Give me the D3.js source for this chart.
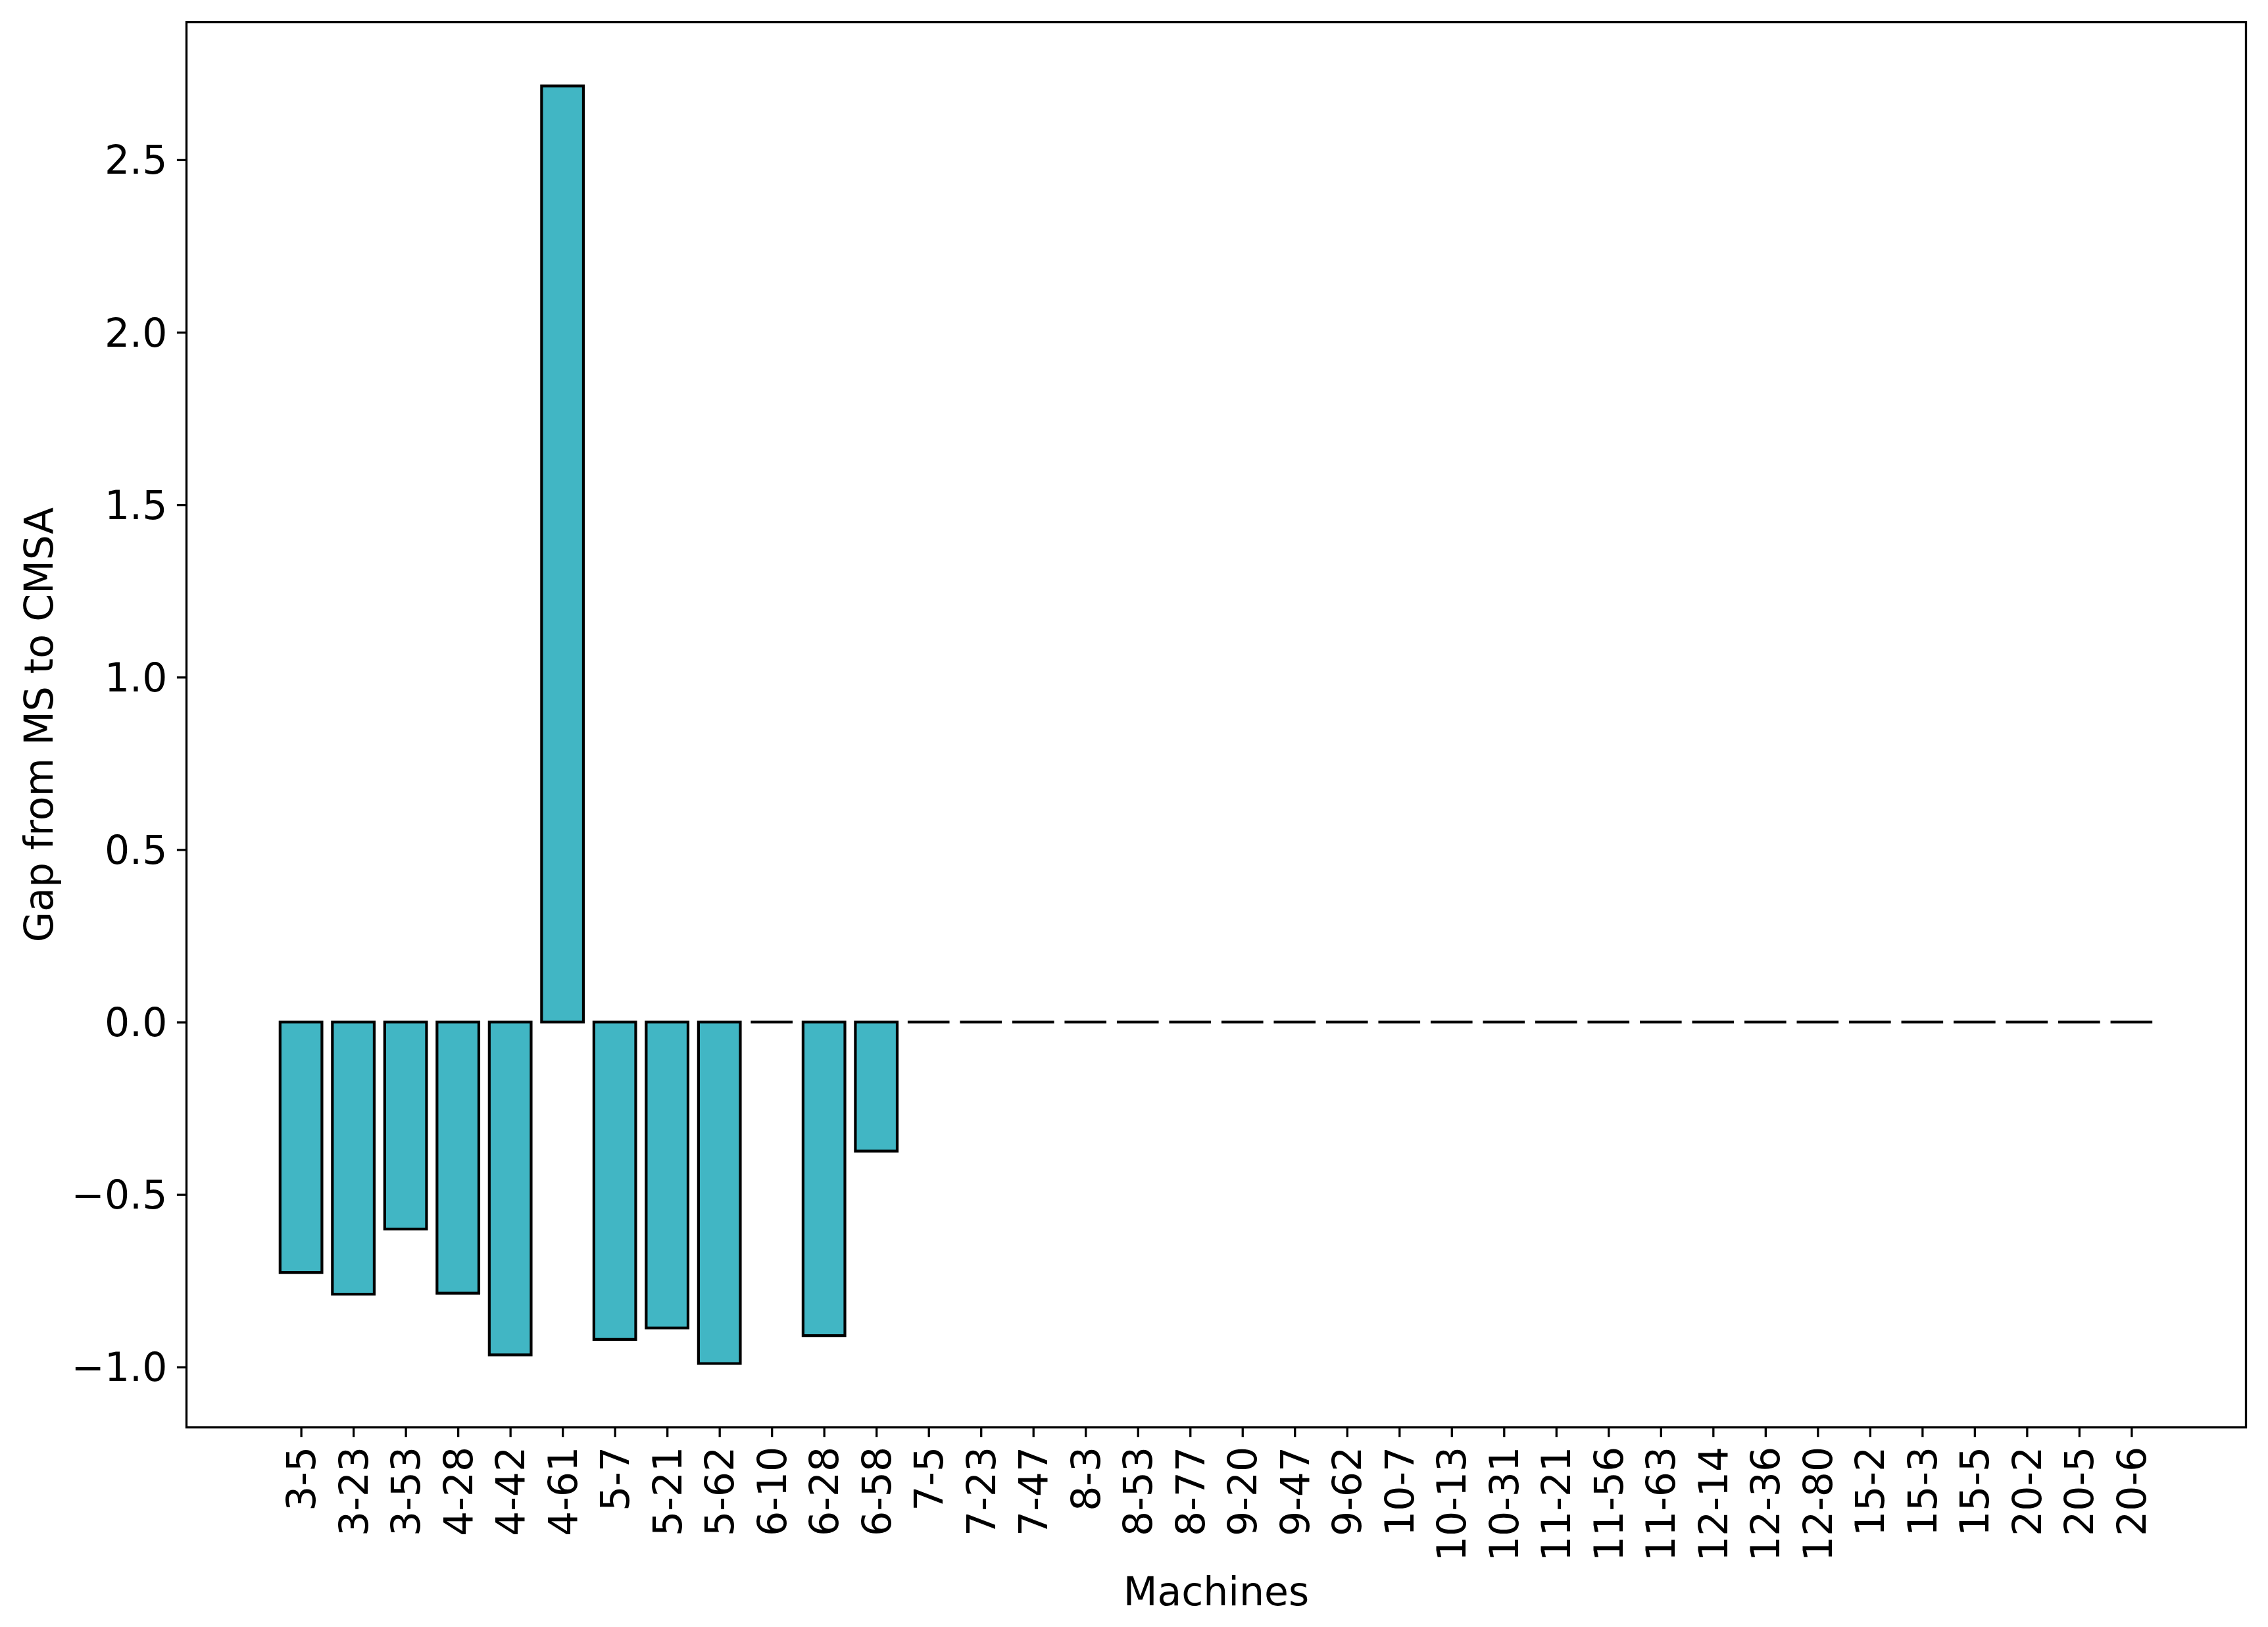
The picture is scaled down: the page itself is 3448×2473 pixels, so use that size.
<!DOCTYPE html>
<html>
<head>
<meta charset="utf-8">
<script src="https://cdn.jsdelivr.net/npm/d3@7"></script>
<style>
  html, body { margin: 0; padding: 0; background: #fff; }
  svg { display: block; }
  text { font-family: "DejaVu Sans", sans-serif; fill: #000; }
</style>
</head>
<body>
<div id="chart"></div>
<script>
// ---- data ----
const machines = ["3-5","3-23","3-53","4-28","4-42","4-61","5-7","5-21","5-62","6-10","6-28","6-58",
  "7-5","7-23","7-47","8-3","8-53","8-77","9-20","9-47","9-62","10-7","10-13","10-31",
  "11-21","11-56","11-63","12-14","12-36","12-80","15-2","15-3","15-5","20-2","20-5","20-6"];
const gaps = [-0.726,-0.789,-0.600,-0.786,-0.965,2.714,-0.920,-0.887,-0.990,0,-0.909,-0.374,
  0,0,0,0,0,0,0,0,0,0,0,0,
  0,0,0,0,0,0,0,0,0,0,0,0];
const yTicks = [-1.0,-0.5,0.0,0.5,1.0,1.5,2.0,2.5];
const xLabel = "Machines";
const yLabel = "Gap from MS to CMSA";

(function () {
// ---- layout ----
const W = 3448, H = 2473;
const mLeft = 283.5, mRight = 3414.5, mTop = 33.6, mBottom = 2169.6;
const fontSize = 60;
const barWidth = 0.8;
const fillColor = "#41b6c4";

const svg = d3.select("#chart").append("svg").attr("width", W).attr("height", H);

// x: matplotlib-like continuous positions with 5% margins
const x0 = -barWidth / 2, x1 = machines.length - 1 + barWidth / 2;
const xm = (x1 - x0) * 0.05;
const x = d3.scaleLinear().domain([x0 - xm, x1 + xm]).range([mLeft, mRight]);

const ymin = Math.min(0, d3.min(gaps)), ymax = Math.max(0, d3.max(gaps));
const ym = (ymax - ymin) * 0.05;
const y = d3.scaleLinear().domain([ymin - ym, ymax + ym]).range([mBottom, mTop]);

// bars (paths so zero-height bars still show their edge)
svg.append("g").selectAll("path").data(gaps).join("path")
  .attr("d", (d, i) => {
    const xa = x(i - barWidth / 2), xb = x(i + barWidth / 2);
    const ya = y(0), yb = y(d);
    const p = d3.path();
    p.moveTo(xa, ya); p.lineTo(xb, ya); p.lineTo(xb, yb); p.lineTo(xa, yb); p.closePath();
    return p.toString();
  })
  .attr("fill", fillColor)
  .attr("stroke", "#000")
  .attr("stroke-width", 4.2)
  .attr("stroke-linejoin", "miter");

// axes
const tickLen = 14.6, tickPad = 14.6;
const yAxis = svg.append("g").attr("transform", `translate(${mLeft},0)`)
  .call(d3.axisLeft(y).tickValues(yTicks).tickFormat(d3.format(".1f")).tickSize(tickLen).tickPadding(tickPad));
yAxis.select(".domain").remove();
yAxis.selectAll(".tick line").attr("stroke", "#000").attr("stroke-width", 3.3);
yAxis.selectAll(".tick text").attr("font-size", fontSize).attr("font-family", "DejaVu Sans").attr("dy", "0.35em");

const xAxis = svg.append("g").attr("transform", `translate(0,${mBottom})`)
  .call(d3.axisBottom(x).tickValues(d3.range(machines.length)).tickFormat(i => machines[i]).tickSize(tickLen).tickPadding(tickPad));
xAxis.select(".domain").remove();
xAxis.selectAll(".tick line").attr("stroke", "#000").attr("stroke-width", 3.3);
xAxis.selectAll(".tick text")
  .attr("font-size", fontSize).attr("font-family", "DejaVu Sans")
  .attr("text-anchor", "end")
  .attr("transform", `translate(0,${tickLen + tickPad}) rotate(-90)`)
  .attr("x", 0).attr("y", 0).attr("dy", "0.35em");

// frame
svg.append("rect").attr("x", mLeft).attr("y", mTop)
  .attr("width", mRight - mLeft).attr("height", mBottom - mTop)
  .attr("fill", "none").attr("stroke", "#000").attr("stroke-width", 3.3);

// labels
svg.append("text").attr("x", (mLeft + mRight) / 2).attr("y", 2440)
  .attr("text-anchor", "middle").attr("font-size", fontSize).text(xLabel);
svg.append("text").attr("transform", `translate(80,${(mTop + mBottom) / 2}) rotate(-90)`)
  .attr("text-anchor", "middle").attr("font-size", fontSize).text(yLabel);
})();
</script>
</body>
</html>
